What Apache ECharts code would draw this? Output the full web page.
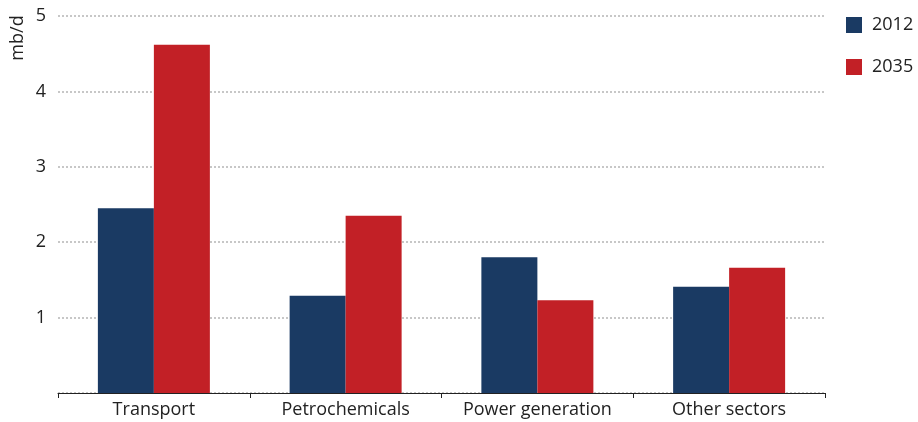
<!DOCTYPE html>
<html>
<head>
<meta charset="utf-8">
<script src="https://cdn.jsdelivr.net/npm/echarts@6/dist/echarts.min.js"></script>
<style>
  html, body { margin: 0; padding: 0; background: #fff; }
  #chart { width: 918px; height: 422px; }
</style>
</head>
<body>
<div id="chart"></div>
<script>
  // sectors on the x axis
  var sectors = ['Transport', 'Petrochemicals', 'Power generation', 'Other sectors'];
  // oil demand, mb/d
  var y2012 = [2.45, 1.29, 1.80, 1.41];
  var y2035 = [4.62, 2.35, 1.23, 1.66];
  var yTicks = [0, 1, 2, 3, 4, 5];

  var chart = echarts.init(document.getElementById('chart'));
  var font = '"Open Sans", "Noto Sans", sans-serif';

  chart.setOption({
    animation: false,
    textStyle: { fontFamily: font },
    color: ['#1a3a63', '#c22026'],
    grid: { left: 58, right: 93, top: 16, bottom: 29, containLabel: false, outerBoundsMode: 'none' },
    legend: {
      orient: 'vertical',
      left: 846,
      top: 16,
      padding: 0,
      itemWidth: 16,
      itemHeight: 16,
      itemGap: 24,
      icon: 'rect',
      textStyle: { fontSize: 18, color: '#222', fontFamily: font, padding: [0, 0, 0, 5] },
      data: ['2012', '2035']
    },
    graphic: [{
      type: 'text',
      x: 18,
      y: 38,
      rotation: Math.PI / 2,
      style: { text: 'mb/d', fontSize: 18, fill: '#222', fontFamily: font, align: 'center', verticalAlign: 'middle' }
    }],
    xAxis: {
      type: 'category',
      data: sectors,
      axisLine: { lineStyle: { color: '#222', width: 1 } },
      axisTick: { show: true, interval: 0, length: 5, lineStyle: { color: '#222' } },
      axisLabel: { interval: 0, fontSize: 18, color: '#222', margin: 8 }
    },
    yAxis: {
      type: 'value',
      min: yTicks[0],
      max: yTicks[yTicks.length - 1],
      interval: 1,
      axisLine: { show: false },
      axisTick: { show: false },
      axisLabel: {
        fontSize: 18, color: '#222', margin: 12,
        formatter: function (v) { return v === 0 ? '' : v; }
      },
      splitLine: {
        show: true,
        lineStyle: { color: '#b5b5b5', type: [2, 2], width: 1.5 }
      }
    },
    series: [
      { name: '2012', type: 'bar', data: y2012, barWidth: 56, barGap: '0%' },
      { name: '2035', type: 'bar', data: y2035, barWidth: 56, barGap: '0%' }
    ]
  });
</script>
</body>
</html>
